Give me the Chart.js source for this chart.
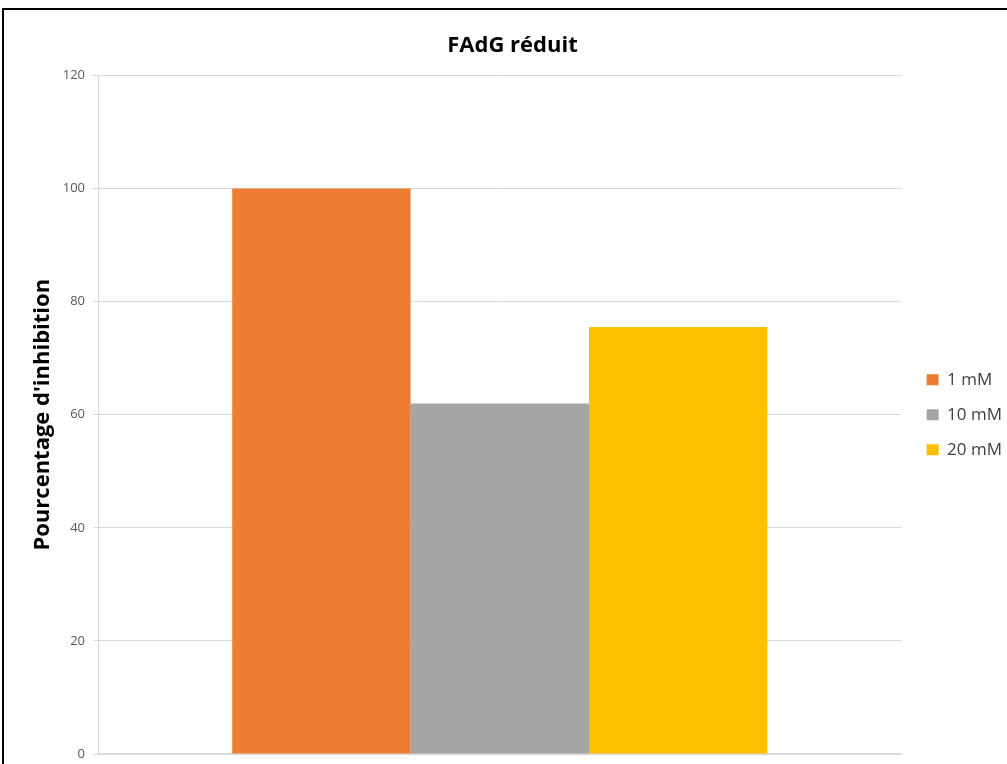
<!DOCTYPE html>
<html>
<head>
<meta charset="utf-8">
<script src="https://cdn.jsdelivr.net/npm/chart.js@4"></script>
<style>
  html, body { margin: 0; padding: 0; background: #fff; }
  #frame { position: absolute; left: 2px; top: 8px; width: 1100px; height: 900px;
           border-left: 2px solid #000; border-top: 2px solid #000; }
  #wrap { position: absolute; left: 0; top: 0; width: 1007px; height: 764px; }
</style>
</head>
<body>
<div id="frame"></div>
<div id="wrap"><canvas id="c" width="1007" height="764"></canvas></div>
<script>
  var categories = [''];
  var seriesNames = ['1 mM', '10 mM', '20 mM'];
  var seriesValues = [[100], [62], [75.5]];
  var seriesColors = ['#ed7d31', '#a5a5a5', '#ffc000'];
  var yTicks = [0, 20, 40, 60, 80, 100, 120];

  var font = '"Open Sans", "Liberation Sans", sans-serif';

  var datasets = seriesNames.map(function (name, i) {
    return {
      label: name,
      data: seriesValues[i],
      backgroundColor: seriesColors[i],
      borderWidth: 0,
      barPercentage: 1,
      categoryPercentage: 0.666
    };
  });

  // keep the legend centred on the plot and a bit right of it, as in the original
  var legendShift = {
    id: 'legendShift',
    afterLayout: function (chart) {
      var lg = chart.legend, area = chart.chartArea;
      lg.left += 7;
      lg.right += 7;
      lg.top = area.top;
      lg.bottom = area.bottom;
    }
  };

  new Chart(document.getElementById('c'), {
    type: 'bar',
    data: { labels: categories, datasets: datasets },
    plugins: [legendShift],
    options: {
      responsive: false,
      animation: false,
      layout: { padding: { left: 20, right: 2, top: 0, bottom: 10 } },
      plugins: {
        title: {
          display: true,
          text: 'FAdG réduit',
          color: '#000',
          font: { family: font, size: 22, weight: 'bold' },
          padding: { top: 33, bottom: 16 }
        },
        legend: {
          position: 'right',
          labels: {
            boxWidth: 12,
            boxHeight: 11,
            padding: 18,
            color: '#404040',
            font: { family: font, size: 17 }
          }
        },
        tooltip: { enabled: false }
      },
      scales: {
        x: {
          grid: { display: false, drawTicks: false },
          ticks: { display: false },
          border: { color: '#d9d9d9', width: 2 }
        },
        y: {
          min: 0,
          max: 120,
          afterFit: function (s) {
            s.width = 78;
            s.paddingTop = 0;
            s.paddingBottom = 0;
          },
          afterBuildTicks: function (s) {
            s.ticks = yTicks.map(function (v) { return { value: v }; });
          },
          ticks: {
            color: '#595959',
            padding: 8,
            font: { family: font, size: 13 }
          },
          grid: { color: '#d9d9d9', lineWidth: 1, tickLength: 5 },
          border: { color: '#d9d9d9', width: 1 },
          title: {
            display: true,
            text: "Pourcentage d'inhibition",
            color: '#000',
            font: { family: font, size: 22, weight: 'bold' },
            padding: { top: 10, bottom: 0 }
          }
        }
      }
    }
  });
</script>
</body>
</html>
